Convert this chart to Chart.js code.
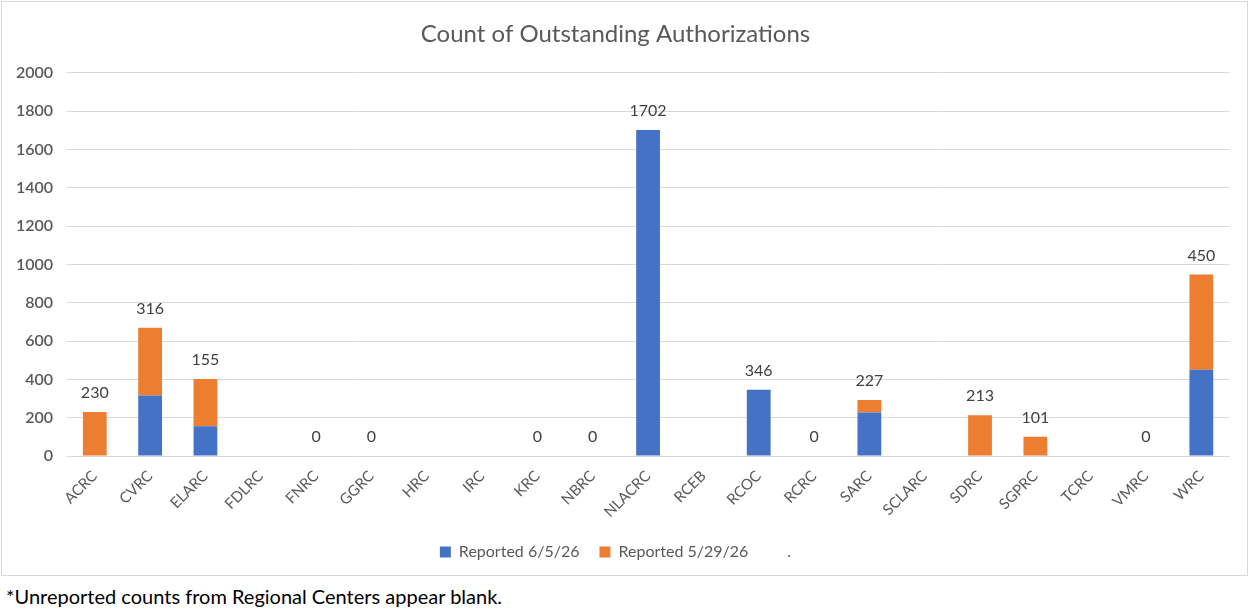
<!DOCTYPE html>
<html>
<head>
<meta charset="utf-8">
<script src="https://cdn.jsdelivr.net/npm/chart.js@4"></script>
<style>
  body { margin: 0; background: #fff; font-family: Lato, "Liberation Sans", sans-serif; }
  .box { position: absolute; left: 1px; top: 1px; width: 1247px; height: 575px; border: 1px solid #d9d9d9; box-sizing: border-box; }
  .note { position: absolute; left: 6px; top: 584px; font-size: 20px; color: #000; }
</style>
</head>
<body>
<div class="box"><canvas id="myChart"></canvas></div>
<div class="note">*Unreported counts from Regional Centers appear blank.</div>
<script>
const categories = ['ACRC','CVRC','ELARC','FDLRC','FNRC','GGRC','HRC','IRC','KRC','NBRC','NLACRC','RCEB','RCOC','RCRC','SARC','SCLARC','SDRC','SGPRC','TCRC','VMRC','WRC'];
const reported0605 = [null,316,155,null,0,0,null,null,0,0,1702,null,346,0,227,null,null,null,null,0,450];
const reported0529 = [230,354,247,null,null,null,null,null,null,null,null,null,null,null,65,null,213,101,null,null,497];
const labelValues = [230,316,155,null,0,0,null,null,0,0,1702,null,346,0,227,null,213,101,null,0,450];
const yTicks = [0,200,400,600,800,1000,1200,1400,1600,1800,2000];

const topLabels = {
  id: 'topLabels',
  afterDatasetsDraw(chart) {
    const ctx = chart.ctx;
    const x = chart.scales.x, y = chart.scales.y;
    ctx.save();
    ctx.font = '16px Lato, "Liberation Sans", sans-serif';
    ctx.fillStyle = '#404040';
    ctx.textAlign = 'center';
    ctx.textBaseline = 'middle';
    labelValues.forEach((v, i) => {
      if (v === null) return;
      const total = (reported0605[i] || 0) + (reported0529[i] || 0);
      ctx.fillText(String(v), x.getPixelForValue(i), y.getPixelForValue(total) - 19);
    });
    ctx.restore();
  }
};

new Chart('myChart', {
  type: 'bar',
  data: {
    labels: categories,
    datasets: [{
      label: 'Reported 6/5/26',
      data: reported0605,
      backgroundColor: '#4472C4'
    }, {
      label: 'Reported 5/29/26',
      data: reported0529,
      backgroundColor: '#ED7D31'
    }, {
      label: '.',
      data: categories.map(() => null),
      backgroundColor: 'rgba(0,0,0,0)'
    }]
  },
  options: {
    responsive: true,
    maintainAspectRatio: false,
    animation: false,
    layout: { padding: { left: 0, right: 18, top: 4, bottom: 5 } },
    datasets: { bar: { barPercentage: 1, categoryPercentage: 0.43 } },
    plugins: {
      title: {
        display: true,
        text: 'Count of Outstanding Authorizations',
        color: '#595959',
        font: { family: 'Lato, "Liberation Sans", sans-serif', size: 24, weight: 'normal' },
        padding: { top: 14, bottom: 24 }
      },
      legend: {
        position: 'bottom',
        labels: {
          color: '#595959',
          font: { family: 'Lato, "Liberation Sans", sans-serif', size: 16 },
          boxWidth: 11, boxHeight: 11, padding: 20
        }
      },
      tooltip: { enabled: false }
    },
    scales: {
      x: {
        stacked: true,
        grid: { display: false },
        border: { color: '#d9d9d9' },
        ticks: {
          color: '#595959',
          font: { family: 'Lato, "Liberation Sans", sans-serif', size: 15 },
          minRotation: 45, maxRotation: 45, autoSkip: false
        }
      },
      y: {
        stacked: true,
        min: 0, max: 2000,
        afterBuildTicks: s => { s.ticks = yTicks.map(v => ({ value: v })); },
        grid: { color: '#d9d9d9', drawTicks: false },
        border: { display: false },
        ticks: {
          color: '#595959', padding: 14,
          callback: v => String(v),
          font: { family: 'Lato, "Liberation Sans", sans-serif', size: 16, weight: '600' }
        }
      }
    }
  },
  plugins: [topLabels]
});
</script>
</body>
</html>
